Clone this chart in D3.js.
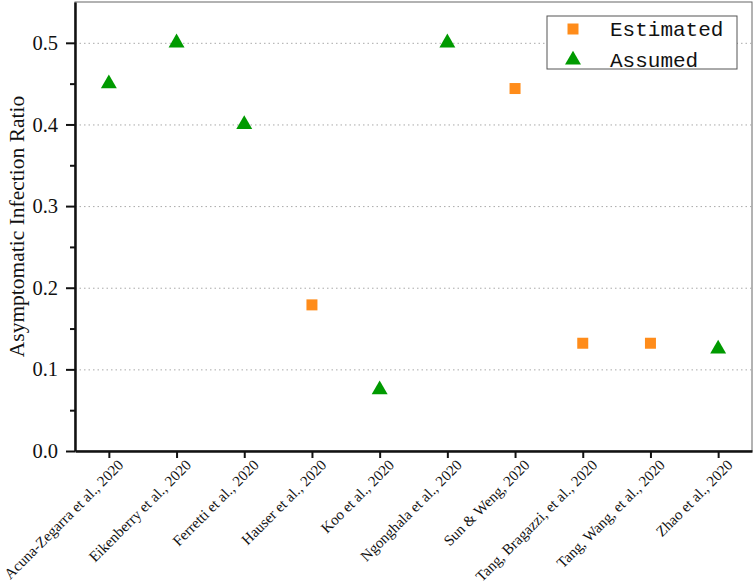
<!DOCTYPE html>
<html>
<head>
<meta charset="utf-8">
<script src="https://cdn.jsdelivr.net/npm/d3@7"></script>
<style>
  body { margin: 0; background: #fff; }
  svg { display: block; }
</style>
</head>
<body>
<svg id="chart" width="754" height="588"></svg>
<script>
// studies on the x axis
var studies = ["Acuna-Zegarra et al., 2020", "Eikenberry et al., 2020", "Ferretti et al., 2020",
  "Hauser et al., 2020", "Koo et al., 2020", "Ngonghala et al., 2020", "Sun & Weng, 2020",
  "Tang, Bragazzi, et al., 2020", "Tang, Wang, et al., 2020", "Zhao et al., 2020"]
var ratios = [0.45, 0.5, 0.4, 0.179, 0.075, 0.5, 0.444, 0.132, 0.132, 0.125]
var kinds = ["Assumed", "Assumed", "Assumed", "Estimated", "Assumed", "Assumed", "Estimated",
  "Estimated", "Estimated", "Assumed"]
var legendKeys = ["Estimated", "Assumed"]
var yTicks = [0, 0.1, 0.2, 0.3, 0.4, 0.5]
var yMinor = [0.05, 0.15, 0.25, 0.35, 0.45]

function drawChart() {
   var svg = d3.select("#chart")
   var mLeft = 75, mRight = 752, mTop = 2, mBottom = 451
   var font = "'Liberation Serif', 'Times New Roman', serif"
   var colors = { Estimated: "#ff8c1a", Assumed: "#009a00" }

   var x = d3.scalePoint().domain(studies).range([mLeft, mRight]).padding(0.5)
   var y = d3.scaleLinear().domain([0, 0.55]).range([mBottom, mTop])

   // frame (top/right thin)
   svg.append("rect")
      .attr("x", mLeft).attr("y", mTop)
      .attr("width", mRight - mLeft).attr("height", mBottom - mTop)
      .attr("fill", "none").attr("stroke", "#666").attr("stroke-width", 1)

   // dotted grid
   svg.append("g").selectAll("line")
      .data(yTicks.filter(function(d) { return d > 0 }))
      .enter().append("line")
      .attr("x1", mLeft).attr("x2", mRight)
      .attr("y1", function(d) { return y(d) + 0.5 }).attr("y2", function(d) { return y(d) + 0.5 })
      .attr("stroke", "#aaa").attr("stroke-width", 1).attr("stroke-dasharray", "1.5,3")

   // y axis
   var yAxis = svg.append("g")
      .attr("transform", "translate(" + mLeft + ",0)")
      .call(d3.axisLeft(y).tickValues(yTicks).tickFormat(d3.format(".1f")).tickSize(9).tickPadding(8).tickSizeOuter(0))
   yAxis.select(".domain").attr("stroke", "#111").attr("stroke-width", 2.5)
   yAxis.selectAll(".tick line").attr("stroke", "#111").attr("stroke-width", 2)
   yAxis.selectAll("text").attr("font-family", font).attr("font-size", 20.5).attr("fill", "#111")

   var yMin = svg.append("g")
      .attr("transform", "translate(" + mLeft + ",0)")
      .call(d3.axisLeft(y).tickValues(yMinor).tickSize(5).tickFormat(""))
   yMin.select(".domain").remove()
   yMin.selectAll(".tick line").attr("stroke", "#111").attr("stroke-width", 2)

   // x axis
   var xAxis = svg.append("g")
      .attr("transform", "translate(0," + mBottom + ")")
      .call(d3.axisBottom(x).tickSize(7).tickSizeOuter(0))
   xAxis.select(".domain").attr("stroke", "#111").attr("stroke-width", 2.5)
   xAxis.selectAll(".tick line").attr("stroke", "#111").attr("stroke-width", 2)
   xAxis.selectAll("text")
      .attr("font-family", font).attr("font-size", 15).attr("fill", "#111")
      .attr("text-anchor", "end")
      .attr("transform", "translate(7,7) rotate(-45)")
      .attr("x", 0).attr("y", 0).attr("dy", "0.75em")

   // y title
   svg.append("text")
      .attr("transform", "translate(24," + ((mTop + mBottom) / 2) + ") rotate(-90)")
      .attr("text-anchor", "middle")
      .attr("font-family", font).attr("font-size", 21.5).attr("fill", "#111")
      .text("Asymptomatic Infection Ratio")

   var sq = d3.symbol().type(d3.symbolSquare).size(121)
   var tri = d3.symbol().type(d3.symbolTriangle).size(110)

   // points
   svg.append("g").selectAll("path")
      .data(studies)
      .enter().append("path")
      .attr("transform", function(d, i) {
         return "translate(" + x(d) + "," + y(ratios[i]) + ")"
      })
      .attr("d", function(d, i) { return kinds[i] == "Assumed" ? tri() : sq() })
      .attr("fill", function(d, i) { return colors[kinds[i]] })

   // legend
   var lg = svg.append("g").attr("transform", "translate(547,16)")
   lg.append("rect").attr("width", 190).attr("height", 53)
     .attr("fill", "#fff").attr("stroke", "#555").attr("stroke-width", 1)
   var li = lg.selectAll("g.item").data(legendKeys).enter().append("g")
     .attr("transform", function(d, i) { return "translate(0," + (13 + i * 31) + ")" })
   li.append("path")
     .attr("transform", "translate(26,0)")
     .attr("d", function(d) { return d == "Assumed" ? tri() : sq() })
     .attr("fill", function(d) { return colors[d] })
   li.append("text")
     .attr("x", 63).attr("y", 0).attr("dy", "0.35em")
     .attr("font-family", "'Liberation Mono', 'Courier New', monospace")
     .attr("font-size", 21).attr("fill", "#111")
     .text(function(d) { return d })
}
drawChart()
</script>
</body>
</html>
